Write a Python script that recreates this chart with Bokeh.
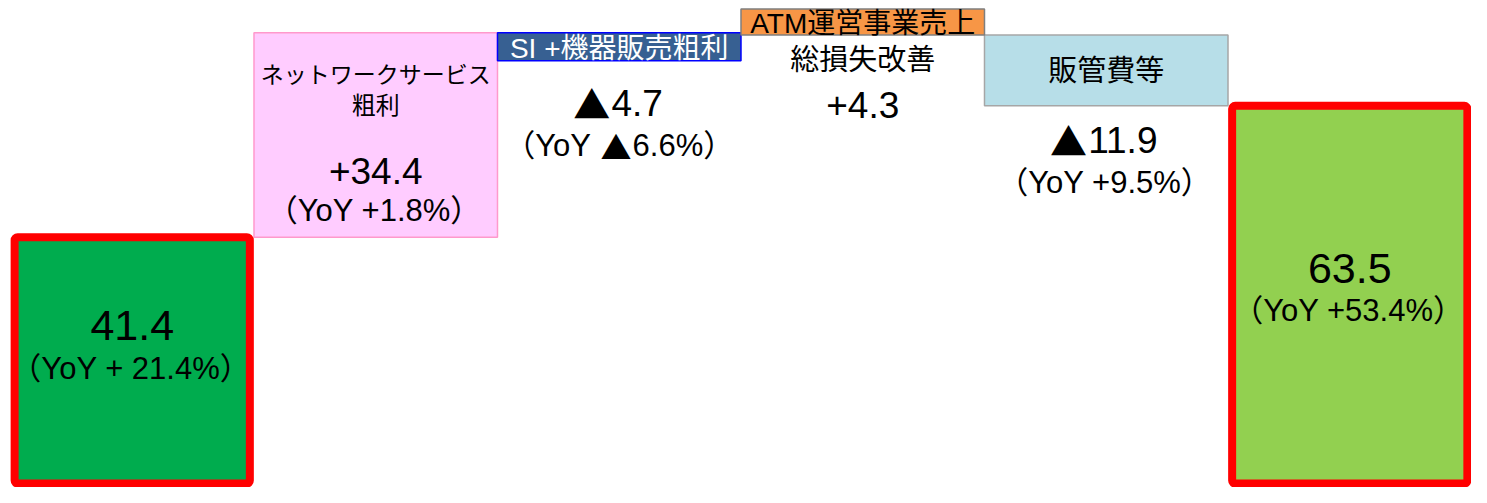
from bokeh.plotting import figure
from bokeh.models import ColumnDataSource, Range1d
from bokeh.core.properties import value
from bokeh.embed import file_html
from bokeh.resources import INLINE

# ---- data -------------------------------------------------------------
categories = ["前期", "ネットワークサービス粗利", "SI +機器販売粗利",
              "ATM運営事業売上総損失改善", "販管費等", "当期"]
deltas = [41.4, 34.4, -4.7, 4.3, -11.9, 63.5]          # first/last are totals
is_total = [True, False, False, False, False, True]
yoy_labels = ["（YoY + 21.4%）", "（YoY +1.8%）", "（YoY ▲6.6%）", "",
              "（YoY +9.5%）", "（YoY +53.4%）"]
fill_colors = ["#00AC4E", "#FFCCFF", "#376092", "#FFFFFF", "#B7DEE8", "#92D050"]
line_colors = ["#FF0000", "#FF99CC", "#0000FF", None, "#A6A6A6", "#FF0000"]

# ---- layout constants -------------------------------------------------
W, H = 1471, 487
Y0, Y1 = -0.67, 81.21
X0, X1 = -0.041, 6.0
PX = (Y1 - Y0) / H          # data units per pixel
JP = "'Noto Sans CJK JP'"
MIX = "'Liberation Sans', 'Noto Sans CJK JP'"

# category slot centres (categorical position of each category)
xpos = {c: i + 0.5 for i, c in enumerate(categories)}

# waterfall geometry from the data
bottoms, tops = [], []
run = 0.0
for d, tot in zip(deltas, is_total):
    if tot:
        bottoms.append(0.0)
        tops.append(d)
        run = d
    else:
        bottoms.append(run)
        run = round(run + d, 1)
        tops.append(run)
upper = [max(b, t) for b, t in zip(bottoms, tops)]


def fmt(d, tot):
    if tot:
        return f"{d:.1f}"
    return f"+{d:.1f}" if d > 0 else f"▲{abs(d):.1f}"


value_labels = [fmt(d, t) for d, t in zip(deltas, is_total)]

p = figure(width=W, height=H, x_range=Range1d(X0, X1),
           y_range=Range1d(Y0, Y1), output_backend="svg", toolbar_location=None,
           min_border=0, min_border_left=0, min_border_right=0,
           min_border_top=0, min_border_bottom=0)
p.axis.visible = False
p.grid.visible = False
p.outline_line_color = None
p.background_fill_color = "white"

# step bars (thin borders)
step_idx = [i for i in range(6) if not is_total[i] and line_colors[i] is not None]
src_steps = ColumnDataSource(dict(
    x=[xpos[categories[i]] for i in step_idx],
    bottom=[bottoms[i] for i in step_idx],
    top=[tops[i] for i in step_idx],
    fill=[fill_colors[i] for i in step_idx],
    line=[line_colors[i] for i in step_idx],
))
p.vbar(x="x", bottom="bottom", top="top", width=1.0, source=src_steps,
       fill_color="fill", line_color="line", line_width=1.5)

# total bars (thick red borders)
tot_idx = [i for i in range(6) if is_total[i]]
src_tot = ColumnDataSource(dict(
    x=[xpos[categories[i]] for i in tot_idx],
    bottom=[bottoms[i] for i in tot_idx],
    top=[tops[i] for i in tot_idx],
    fill=[fill_colors[i] for i in tot_idx],
))
p.vbar(x="x", bottom="bottom", top="top", width=0.966, source=src_tot,
       fill_color="fill", line_color="#FF0000", line_width=8, border_radius=3)

# ATM header box above its step
atm = 3
p.vbar(x=[xpos[categories[atm]]], bottom=[upper[atm]], top=[upper[atm] + 26 * PX],
       width=1.0, fill_color="#F79646", line_color="#7F7F7F", line_width=1.5)

# approximate advance widths (em) used to lay out mixed-font strings
EM = {".": 0.278, "%": 0.889, "+": 0.584, "Y": 0.667, "o": 0.556, " ": 0.278,
      "（": 1.0, "）": 1.0, "▲": 0.97}
TRI_SHIFT = -0.06   # pull the full-width triangle left over its side bearing


def width_em(s):
    return sum(EM.get(c, 0.556) for c in s)


def txt(i, dy, s, size, color="black", font=MIX):
    p.text(x=[xpos[categories[i]]], y=[upper[i] - dy * PX], text=[s],
           text_font=value(font), text_font_size=f"{size}px", text_color=color,
           text_align="center", text_baseline="middle")


def mixed(i, dy, s, size):
    """Draw a string whose ▲ marks use the full-width Japanese glyph."""
    parts = []
    buf = ""
    for c in s:
        if c == "▲":
            if buf:
                parts.append((buf, MIX))
                buf = ""
            parts.append((c, JP))
        else:
            buf += c
    if buf:
        parts.append((buf, MIX))
    x = -width_em(s) * size / 2
    for seg, font in parts:
        shift = TRI_SHIFT * size if seg == "▲" else 0.0
        p.text(x=[xpos[categories[i]]], y=[upper[i] - dy * PX], text=[seg],
               x_offset=x + shift, text_font=value(font),
               text_font_size=f"{size}px", text_color="black",
               text_align="left", text_baseline="middle")
        x += width_em(seg) * size


# start / end totals
txt(0, 88, value_labels[0], 43)
mixed(0, 131, yoy_labels[0], 31)
txt(5, 162.6, value_labels[5], 43)
mixed(5, 204.6, yoy_labels[5], 31)

# network service gross profit
txt(1, 40, "ネットワークサービス", 23, font=JP)
txt(1, 71, "粗利", 24, font=JP)
mixed(1, 138, value_labels[1], 37)
mixed(1, 178, yoy_labels[1], 31)

# SI + equipment
txt(2, 16, "SI +機器販売粗利", 28, color="white")
mixed(2, 70, value_labels[2], 37)
mixed(2, 113, yoy_labels[2], 31)

# ATM
txt(3, -11.6, "ATM運営事業売上", 28)
txt(3, 22.4, "総損失改善", 29, font=JP)
mixed(3, 70.4, value_labels[3], 37)

# SG&A
txt(4, 33.4, "販管費等", 29, font=JP)
mixed(4, 105.4, value_labels[4], 37)
mixed(4, 147.4, yoy_labels[4], 31)

open("out.html", "w").write(file_html(p, INLINE))
